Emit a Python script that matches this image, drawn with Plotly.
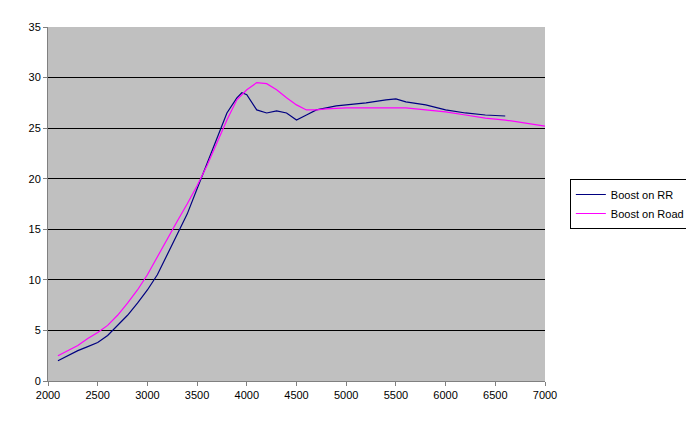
import plotly.graph_objects as go

rr_x = [2100,2200,2300,2400,2500,2600,2700,2800,2900,3000,3100,3200,3300,3400,3500,3600,3700,3800,3900,3950,4000,4050,4100,4200,4300,4400,4500,4600,4700,4800,4900,5000,5200,5400,5500,5600,5800,6000,6200,6400,6600]
rr_y = [2.0,2.5,3.0,3.4,3.8,4.5,5.5,6.5,7.7,9.0,10.5,12.5,14.5,16.5,19.0,21.5,24.0,26.5,28.0,28.5,28.3,27.5,26.8,26.5,26.7,26.5,25.8,26.3,26.8,27.0,27.2,27.3,27.5,27.8,27.9,27.6,27.3,26.8,26.5,26.3,26.2]
road_x = [2100,2200,2300,2400,2500,2600,2700,2800,2900,3000,3100,3200,3300,3400,3500,3600,3700,3800,3900,4000,4100,4200,4300,4400,4500,4600,4700,4800,5000,5200,5400,5600,5800,6000,6200,6400,6600,6800,7000]
road_y = [2.5,3.0,3.5,4.2,4.8,5.5,6.5,7.7,9.0,10.5,12.3,14.0,15.8,17.5,19.3,21.3,23.5,25.8,27.8,28.8,29.5,29.4,28.8,28.0,27.3,26.8,26.8,26.9,27.0,27.0,27.0,27.0,26.8,26.6,26.3,26.0,25.8,25.5,25.2]

fig = go.Figure()
fig.add_trace(go.Scatter(x=rr_x, y=rr_y, mode="lines", name="Boost on RR", line=dict(color="#000080", width=1.2)))
fig.add_trace(go.Scatter(x=road_x, y=road_y, mode="lines", name="Boost on Road", line=dict(color="#FF00FF", width=1.2)))
fig.update_layout(
    width=694, height=426, paper_bgcolor="white", plot_bgcolor="#C0C0C0",
    margin=dict(l=40, r=149, t=19, b=53),
    font=dict(family="Arial, Liberation Sans", size=11, color="black"),
    xaxis=dict(range=[2000, 7000], dtick=500, showgrid=False, showline=True, linecolor="#808080", ticks="outside", ticklen=4, tickcolor="#808080", zeroline=False),
    yaxis=dict(range=[0, 35], dtick=5, showgrid=True, gridcolor="black", gridwidth=1, showline=True, linecolor="#808080", ticks="outside", ticklen=4, tickcolor="#808080", zeroline=False),
    legend=dict(x=1.05, y=0.50, xanchor="left", yanchor="middle", bordercolor="black", borderwidth=1, bgcolor="white", font=dict(size=11), tracegroupgap=0, itemwidth=30),
)
fig.write_html("out.html")
